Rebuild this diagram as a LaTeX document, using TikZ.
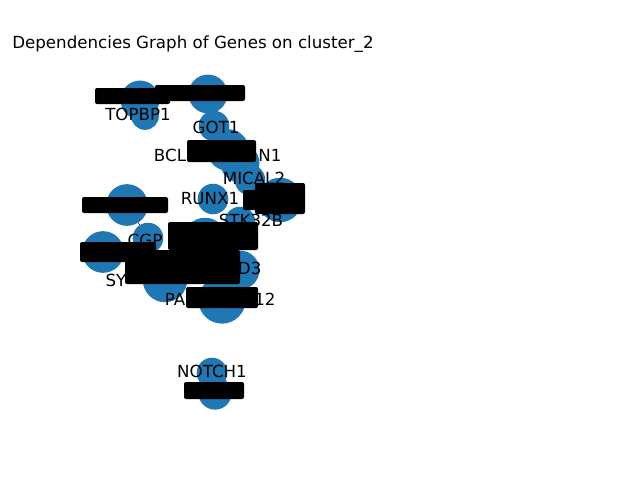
\documentclass[tikz,border=0pt]{standalone}
\usepackage{fontspec}
\setmainfont{DejaVu Sans}
\usetikzlibrary{positioning}
\definecolor{nodeblue}{HTML}{1F77B4}
\tikzset{gene/.style={circle,fill=nodeblue,inner sep=0pt,minimum size=#1},
  glabel/.style={inner sep=0pt,font=\fontsize{12}{12}\selectfont},
  blob/.style={fill=black,rounded corners=1.5pt}}
\begin{document}
\begin{tikzpicture}[x=0.72pt,y=-0.72pt]
\useasboundingbox (0,0) rectangle (640,480);
\node[glabel] (title) at (193,44) {Dependencies Graph of Genes on cluster\_2};
% genes
\node[gene=28pt] (g1) at (140,100) {};
\node[gene=28pt] (g2) at (208,94) {};
\node[gene=20pt] (g3) at (145,116) {};
\node[gene=22pt] (g4) at (214,126) {};
\node[gene=30pt] (g5) at (228,150) {};
\node[gene=28pt] (g6) at (240,163) {};
\node[gene=22pt] (g7) at (250,180) {};
\node[gene=32pt] (g8) at (280,200) {};
\node[gene=22pt] (g9) at (213,199) {};
\node[gene=22pt] (g10) at (240,222) {};
\node[gene=30pt] (g11) at (127,205) {};
\node[gene=22pt] (g12) at (148,238) {};
\node[gene=30pt] (g13) at (103,252) {};
\node[gene=32pt] (g14) at (205,240) {};
\node[gene=32pt] (g15) at (165,280) {};
\node[gene=28pt] (g16) at (240,270) {};
\node[gene=34pt] (g17) at (222,300) {};
\node[gene=22pt] (g18) at (212,373) {};
\node[gene=24pt] (g19) at (215,393) {};
\draw[thin] (g11) -- (g12);
\draw[thin] (g7) -- (g6);
% overlapping label masses
\fill[blob] (95,88) rectangle (170,104);
\fill[blob] (155,85) rectangle (245,101);
\fill[blob] (187,140) rectangle (256,162);
\fill[blob] (255,183) rectangle (305,214);
\fill[blob] (243,190) rectangle (260,210);
\fill[blob] (82,197) rectangle (168,213);
\fill[blob] (80,242) rectangle (156,262);
\fill[blob] (168,222) rectangle (258,250);
\fill[blob] (125,250) rectangle (240,284);
\fill[blob] (186,287) rectangle (258,308);
\fill[blob] (184,382) rectangle (244,399);
% readable labels
\node[glabel] (l1) at (138,114) {TOPBP1};
\node[glabel] (l4) at (216,127) {GOT1};
\node[glabel] (l5) at (170,155) {BCL};
\node[glabel] (l5b) at (270,155) {N1};
\node[glabel] (l7) at (254,178) {MICAL2};
\node[glabel] (l9) at (210,199) {RUNX1};
\node[glabel] (l10) at (251,220) {STK32B};
\node[glabel] (l12) at (145,240) {CGP};
\node[glabel] (l14) at (244,268) {BD3};
\node[glabel] (l15) at (116,280) {SY};
\node[glabel] (l17) at (175,299) {PA};
\node[glabel] (l17b) at (265,299) {12};
\node[glabel] (l18) at (212,371) {NOTCH1};
\end{tikzpicture}
\end{document}
